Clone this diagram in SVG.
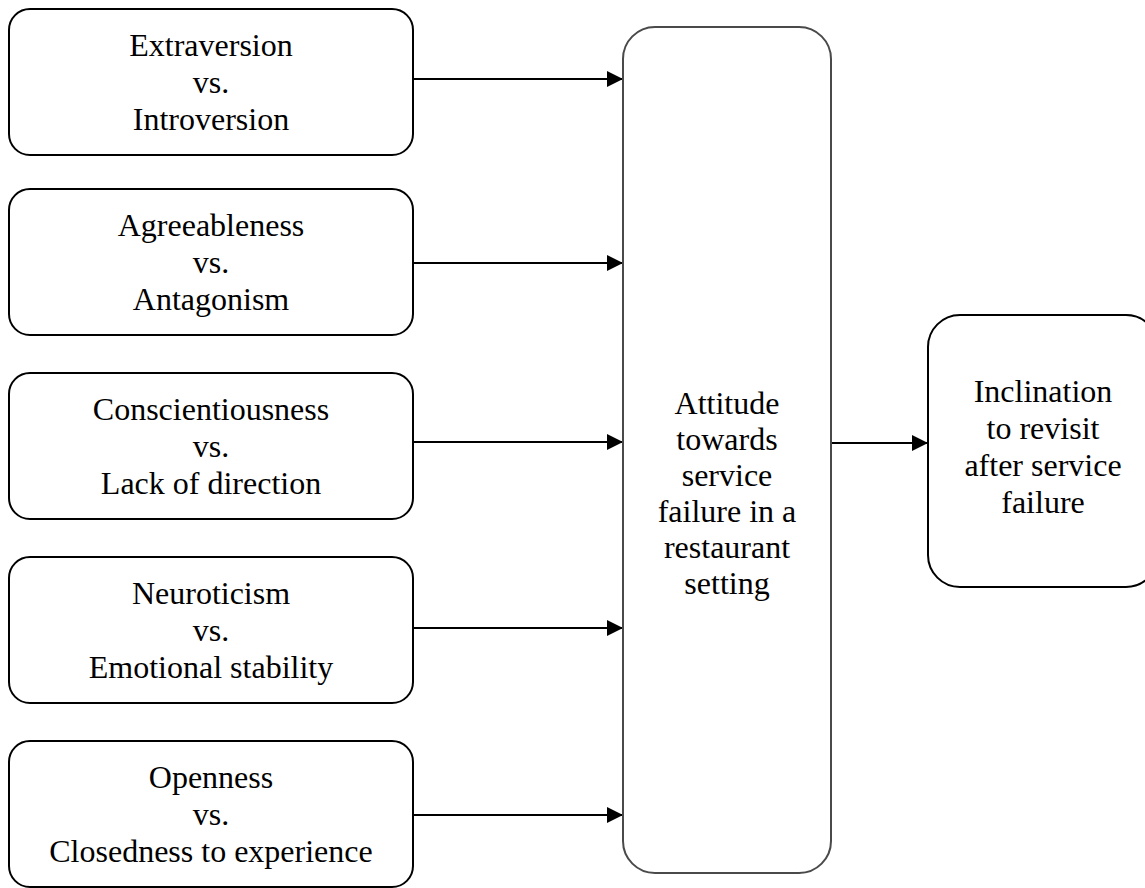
<svg xmlns="http://www.w3.org/2000/svg" width="1145" height="888" viewBox="0 0 1145 888">
  <style>
    .box { fill: #ffffff; stroke: #000000; stroke-width: 2; }
    .mid { fill: #ffffff; stroke: #4a4a4a; stroke-width: 2; }
    .lbl { font-family: "Liberation Serif", "Times New Roman", serif; font-size: 32px; fill: #000000; text-anchor: middle; }
    .conn { stroke: #000000; stroke-width: 2; fill: none; marker-end: url(#arrow); }
  </style>
  <defs>
    <marker id="arrow" markerUnits="userSpaceOnUse" markerWidth="16" markerHeight="16" refX="16" refY="8" orient="auto">
      <path d="M0,0 L16,8 L0,16 z" fill="#000000"/>
    </marker>
  </defs>
  <rect width="1145" height="888" fill="#ffffff"/>

  <g id="connectors">
    <line class="conn" x1="413" y1="79" x2="623" y2="79"/>
    <line class="conn" x1="413" y1="263" x2="623" y2="263"/>
    <line class="conn" x1="413" y1="442" x2="623" y2="442"/>
    <line class="conn" x1="413" y1="628" x2="623" y2="628"/>
    <line class="conn" x1="413" y1="815" x2="623" y2="815"/>
    <line class="conn" x1="831" y1="443" x2="928" y2="443"/>
  </g>

  <g id="extraversion">
    <rect class="box" x="9" y="9" width="404" height="146" rx="21" ry="21"/>
    <text class="lbl" x="211" y="56">Extraversion</text>
    <text class="lbl" x="211" y="93">vs.</text>
    <text class="lbl" x="211" y="130">Introversion</text>
  </g>

  <g id="agreeableness">
    <rect class="box" x="9" y="189" width="404" height="146" rx="21" ry="21"/>
    <text class="lbl" x="211" y="236">Agreeableness</text>
    <text class="lbl" x="211" y="273">vs.</text>
    <text class="lbl" x="211" y="310">Antagonism</text>
  </g>

  <g id="conscientiousness">
    <rect class="box" x="9" y="373" width="404" height="146" rx="21" ry="21"/>
    <text class="lbl" x="211" y="420">Conscientiousness</text>
    <text class="lbl" x="211" y="457">vs.</text>
    <text class="lbl" x="211" y="494">Lack of direction</text>
  </g>

  <g id="neuroticism">
    <rect class="box" x="9" y="557" width="404" height="146" rx="21" ry="21"/>
    <text class="lbl" x="211" y="604">Neuroticism</text>
    <text class="lbl" x="211" y="641">vs.</text>
    <text class="lbl" x="211" y="678">Emotional stability</text>
  </g>

  <g id="openness">
    <rect class="box" x="9" y="741" width="404" height="146" rx="21" ry="21"/>
    <text class="lbl" x="211" y="788">Openness</text>
    <text class="lbl" x="211" y="825">vs.</text>
    <text class="lbl" x="211" y="862">Closedness to experience</text>
  </g>

  <g id="attitude">
    <rect class="mid" x="623" y="27" width="208" height="846" rx="32" ry="32"/>
    <text class="lbl" x="727" y="414">Attitude</text>
    <text class="lbl" x="727" y="450">towards</text>
    <text class="lbl" x="727" y="486">service</text>
    <text class="lbl" x="727" y="522">failure in a</text>
    <text class="lbl" x="727" y="558">restaurant</text>
    <text class="lbl" x="727" y="594">setting</text>
  </g>

  <g id="inclination">
    <rect class="box" x="928" y="315" width="230" height="272" rx="32" ry="32"/>
    <text class="lbl" x="1043" y="402">Inclination</text>
    <text class="lbl" x="1043" y="439">to revisit</text>
    <text class="lbl" x="1043" y="476">after service</text>
    <text class="lbl" x="1043" y="513">failure</text>
  </g>
</svg>
